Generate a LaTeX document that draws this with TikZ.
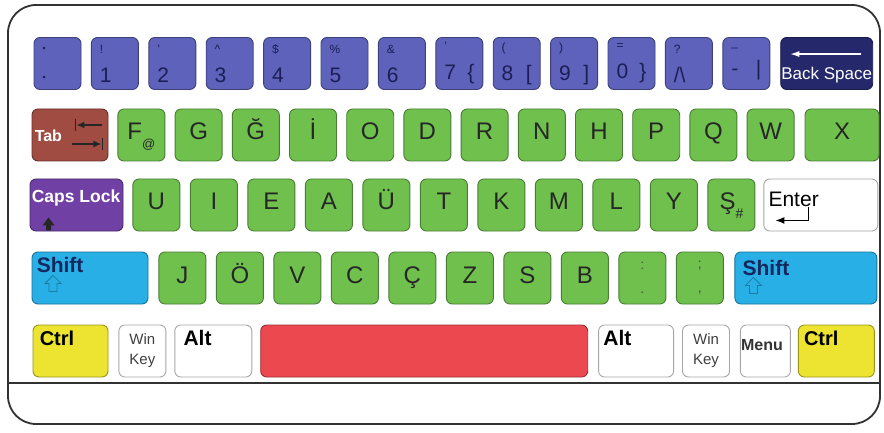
\documentclass[tikz,border=0pt]{standalone}
\usepackage{fontspec}
\setmainfont{Liberation Sans}
\usepackage{tikz}
\usetikzlibrary{arrows.meta,positioning,calc}
\definecolor{kbnum}{RGB}{94,98,186}
\definecolor{kbnumtxt}{RGB}{28,30,86}
\definecolor{kbback}{RGB}{38,40,108}
\definecolor{kbtab}{RGB}{160,76,66}
\definecolor{kbcaps}{RGB}{112,64,164}
\definecolor{kbgreen}{RGB}{112,192,78}
\definecolor{kbshift}{RGB}{40,176,230}
\definecolor{kbshifttxt}{RGB}{20,40,96}
\definecolor{kbctrl}{RGB}{236,228,48}
\definecolor{kbspace}{RGB}{236,72,80}
\definecolor{kbframe}{RGB}{50,50,50}
\newcommand{\kbfs}[1]{\fontsize{#1}{#1}\selectfont}

\begin{document}
\begin{tikzpicture}[
  x=1pt, y=-1pt,
  kbkey/.style={draw=#1!65!black, fill=#1, line width=0.9pt, rounded corners=6pt,
                inner sep=0pt, minimum height=52pt},
  numkey/.style={kbkey=kbnum, minimum width=47pt, text width=30pt, align=left,
                 text=kbnumtxt, font=\kbfs{21}},
  letterkey/.style={kbkey=kbgreen, minimum width=47pt, text height=17pt,
                    text depth=7pt, text=black!85, font=\kbfs{24}},
  dotkey/.style={kbkey=kbgreen, minimum width=47pt, align=center,
                 text=black!70, font=\kbfs{14}},
  keytext/.style={inner sep=0pt, anchor=base west},
  icon/.style={line width=1.5pt, black!85}
]
\useasboundingbox (0,0) rectangle (884,433);
\fill[white] (0,0) rectangle (884,433);

% outer case
\draw[kbframe, line width=1.8pt, rounded corners=28pt] (8,5) rectangle (880,424);
\draw[kbframe, line width=1.6pt] (8,383) -- (880,383);

% number row
\node[numkey] (kcolon) at (57.5,63.5)
  {{\kbfs{9}\textbullet}\\[8pt]{\kbfs{9}\textbullet}};
\node[numkey, right=9.5pt of kcolon] (k1) {{\kbfs{12}!}\\[8pt]1};
\node[numkey, right=9.5pt of k1] (k2) {{\kbfs{12}'}\\[8pt]2};
\node[numkey, right=9.5pt of k2] (k3) {{\kbfs{12}\textasciicircum}\\[8pt]3};
\node[numkey, right=9.5pt of k3] (k4) {{\kbfs{12}\$}\\[8pt]4};
\node[numkey, right=9.5pt of k4] (k5) {{\kbfs{12}\%}\\[8pt]5};
\node[numkey, right=9.5pt of k5] (k6) {{\kbfs{12}\&}\\[8pt]6};
\node[numkey, right=9.5pt of k6] (k7) {{\kbfs{12}'}\\[8pt]7\hfill\{};
\node[numkey, right=9.5pt of k7] (k8) {{\kbfs{12}(}\\[8pt]8\hfill[};
\node[numkey, right=9.5pt of k8] (k9) {{\kbfs{12})}\\[8pt]9\hfill]};
\node[numkey, right=9.5pt of k9] (k0) {{\kbfs{12}=}\\[8pt]0\hfill\}};
\node[numkey, right=9.5pt of k0] (kquest) {{\kbfs{12}?}\\[8pt]/\textbackslash};
\node[numkey, right=9.5pt of kquest] (kminus) {{\kbfs{12}\_}\\[8pt]-\hfill|};
\node[kbkey=kbback, minimum width=92pt, right=10pt of kminus] (bksp) {};
\node[anchor=base, inner sep=0pt, text=white, font=\kbfs{17}]
  (bksptxt) at ($(bksp.south)+(0,-10)$) {Back Space};
\draw[white, line width=1.3pt, -{Latex[length=9pt,width=6pt]}]
  ($(bksp.north east)+(-12,17)$) -- ($(bksp.north west)+(10,17)$);

% first letter row
\node[kbkey=kbtab, minimum width=76pt] (tab) at (70,135) {};
\node[keytext, text=white, font=\bfseries\kbfs{16}] (tabtxt)
  at ($(tab.west)+(3,7)$) {Tab};
\draw[icon, -{Latex[length=8pt,width=7pt]}] ($(tab.east)+(-6,-10)$) -- ($(tab.east)+(-32,-10)$);
\draw[icon] ($(tab.east)+(-33,-16)$) -- ($(tab.east)+(-33,-4)$);
\draw[icon, -{Latex[length=8pt,width=7pt]}] ($(tab.east)+(-36,9)$) -- ($(tab.east)+(-7,9)$);
\draw[icon] ($(tab.east)+(-6,3)$) -- ($(tab.east)+(-6,15)$);
\node[letterkey, right=9pt of tab] (kF) {F\raisebox{-9pt}{\kbfs{13}@}\hspace{6pt}};
\node[letterkey, right=9.3pt of kF] (kG) {G};
\node[letterkey, right=9.3pt of kG] (kGb) {Ğ};
\node[letterkey, right=9.3pt of kGb] (kIdot) {İ};
\node[letterkey, right=9.3pt of kIdot] (kO) {O};
\node[letterkey, right=9.3pt of kO] (kD) {D};
\node[letterkey, right=9.3pt of kD] (kR) {R};
\node[letterkey, right=9.3pt of kR] (kN) {N};
\node[letterkey, right=9.3pt of kN] (kH) {H};
\node[letterkey, right=9.3pt of kH] (kP) {P};
\node[letterkey, right=9.3pt of kP] (kQ) {Q};
\node[letterkey, right=9.3pt of kQ] (kW) {W};
\node[letterkey, minimum width=74pt, right=10pt of kW] (kX) {X\hspace{34pt}};

% second letter row
\node[kbkey=kbcaps, minimum width=93pt] (caps) at (76.5,205) {};
\node[keytext, text=white, font=\bfseries\kbfs{17.5}] (capstxt)
  at ($(caps.west)+(2,-3)$) {Caps Lock};
\fill[black!85] ($(caps.south west)+(19,-14)$) -- ++(6,8) -- ++(-3.5,0) -- ++(0,5)
  -- ++(-5,0) -- ++(0,-5) -- ++(-3.5,0) -- cycle;
\node[letterkey, right=9pt of caps] (kU) {U};
\node[letterkey, right=9.6pt of kU] (kI) {I};
\node[letterkey, right=9.6pt of kI] (kE) {E};
\node[letterkey, right=9.6pt of kE] (kA) {A};
\node[letterkey, right=9.6pt of kA] (kUe) {Ü};
\node[letterkey, right=9.6pt of kUe] (kT) {T};
\node[letterkey, right=9.6pt of kT] (kK) {K};
\node[letterkey, right=9.6pt of kK] (kM) {M};
\node[letterkey, right=9.6pt of kM] (kL) {L};
\node[letterkey, right=9.6pt of kL] (kY) {Y};
\node[letterkey, right=9.6pt of kY] (kS) {Ş\raisebox{-9pt}{\kbfs{14}\#}\hspace{4pt}};
\node[kbkey=white, minimum width=114pt, right=8pt of kS] (enter) {};
\node[keytext, font=\kbfs{21}] (entertxt) at ($(enter.west)+(5,2)$) {Enter};
\draw[icon, black, -{Latex[length=9pt,width=7pt]}]
  ($(enter.south west)+(45,-24)$) |- ($(enter.south west)+(12,-11)$);

% third letter row
\node[kbkey=kbshift, minimum width=116pt] (shiftl) at (90,278) {};
\node[keytext, text=kbshifttxt, font=\bfseries\kbfs{21}] (shiftltxt)
  at ($(shiftl.west)+(5,-6)$) {Shift};
\draw[kbshift!70!black, line width=0.8pt] ($(shiftl.south west)+(21.5,-29)$)
  -- ++(8,8) -- ++(-4,0) -- ++(0,8) -- ++(-8,0) -- ++(0,-8) -- ++(-4,0) -- cycle;
\node[letterkey, right=10pt of shiftl] (kJ) {J};
\node[letterkey, right=9.6pt of kJ] (kOe) {Ö};
\node[letterkey, right=9.6pt of kOe] (kV) {V};
\node[letterkey, right=9.6pt of kV] (kC) {C};
\node[letterkey, right=9.6pt of kC] (kCc) {Ç};
\node[letterkey, right=9.6pt of kCc] (kZ) {Z};
\node[letterkey, right=9.6pt of kZ] (kSs) {S};
\node[letterkey, right=9.6pt of kSs] (kB) {B};
\node[dotkey, right=9.6pt of kB] (kdot) {:\\[10pt].};
\node[dotkey, right=9.6pt of kdot] (kcomma) {;\\[10pt],};
\node[kbkey=kbshift, minimum width=142pt, right=10.6pt of kcomma] (shiftr) {};
\node[keytext, text=kbshifttxt, font=\bfseries\kbfs{21}] (shiftrtxt)
  at ($(shiftr.west)+(8,-3)$) {Shift};
\draw[kbshift!70!black, line width=0.8pt] ($(shiftr.south west)+(19,-27)$)
  -- ++(8,8) -- ++(-4,0) -- ++(0,8) -- ++(-8,0) -- ++(0,-8) -- ++(-4,0) -- cycle;

% bottom row
\node[kbkey=kbctrl, minimum width=75pt] (ctrll) at (70.5,351) {};
\node[keytext, font=\bfseries\kbfs{20}] (ctrlltxt) at ($(ctrll.west)+(7,-6)$) {Ctrl};
\node[kbkey=white, minimum width=47pt, align=center, text=black!75, font=\kbfs{15},
      right=10pt of ctrll] (winl) {Win\\[5pt]Key};
\node[kbkey=white, minimum width=77pt, right=8pt of winl] (altl) {};
\node[keytext, font=\bfseries\kbfs{21}] (altltxt) at ($(altl.west)+(9,-6)$) {Alt};
\node[kbkey=kbspace, minimum width=327pt, right=8pt of altl] (space) {};
\node[kbkey=white, minimum width=75pt, right=10pt of space] (altr) {};
\node[keytext, font=\bfseries\kbfs{21}] (altrtxt) at ($(altr.west)+(5,-6)$) {Alt};
\node[kbkey=white, minimum width=47pt, align=center, text=black!75, font=\kbfs{15},
      right=8pt of altr] (winr) {Win\\[5pt]Key};
\node[kbkey=white, minimum width=50pt, right=10pt of winr] (menu) {};
\node[keytext, text=black!80, font=\bfseries\kbfs{16}] (menutxt)
  at ($(menu.west)+(1,-1)$) {Menu};
\node[kbkey=kbctrl, minimum width=76pt, right=7pt of menu] (ctrlr) {};
\node[keytext, font=\bfseries\kbfs{20}] (ctrlrtxt) at ($(ctrlr.west)+(6,-6)$) {Ctrl};
\end{tikzpicture}
\end{document}
